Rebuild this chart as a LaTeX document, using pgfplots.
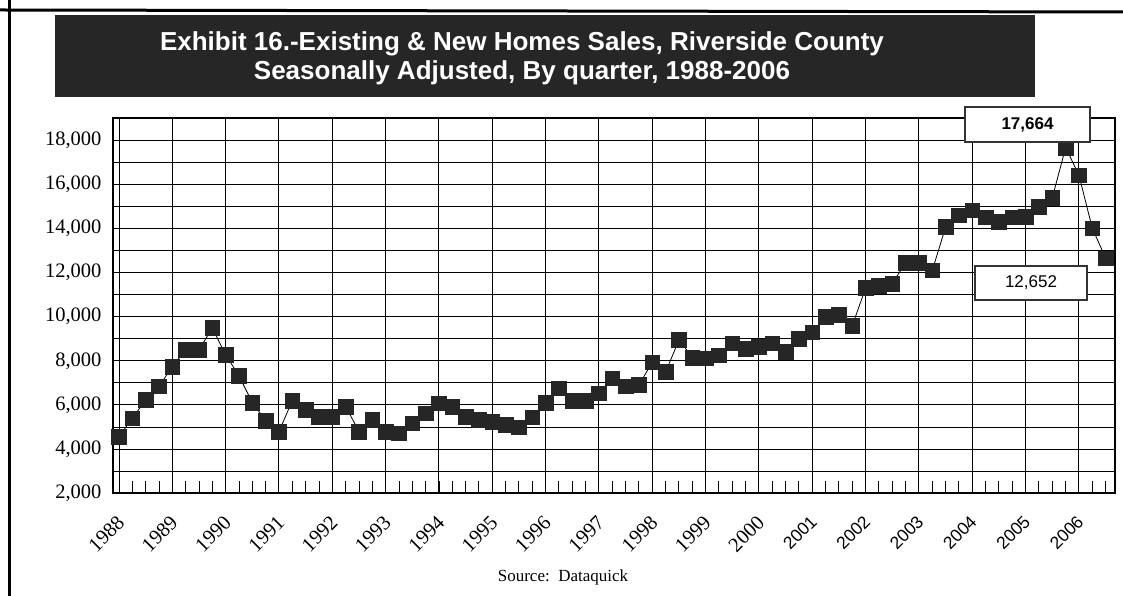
\documentclass[border=0pt]{standalone}
\usepackage{fontspec}
\setmainfont{Liberation Serif}
\newfontfamily\arial{Liberation Sans}
\usepackage{graphicx}
\usepackage{pgfplots}
\pgfplotsset{compat=1.18}
\usepackage{pgfplotstable}

\pgfplotstableread{
x y
1988.00 4570
1988.25 5400
1988.50 6230
1988.75 6840
1989.00 7740
1989.25 8500
1989.50 8500
1989.75 9490
1990.00 8270
1990.25 7320
1990.50 6110
1990.75 5290
1991.00 4800
1991.25 6200
1991.50 5780
1991.75 5480
1992.00 5480
1992.25 5930
1992.50 4800
1992.75 5330
1993.00 4800
1993.25 4720
1993.50 5180
1993.75 5630
1994.00 6080
1994.25 5930
1994.50 5480
1994.75 5330
1995.00 5250
1995.25 5100
1995.50 5000
1995.75 5450
1996.00 6110
1996.25 6760
1996.50 6190
1996.75 6190
1997.00 6540
1997.25 7220
1997.50 6840
1997.75 6910
1998.00 7940
1998.25 7500
1998.50 8950
1998.75 8150
1999.00 8120
1999.25 8250
1999.50 8800
1999.75 8550
2000.00 8640
2000.25 8800
2000.50 8400
2000.75 9000
2001.00 9300
2001.25 10000
2001.50 10100
2001.75 9600
2002.00 11300
2002.25 11400
2002.50 11500
2002.75 12450
2003.00 12450
2003.25 12100
2003.50 14070
2003.75 14600
2004.00 14820
2004.25 14500
2004.50 14300
2004.75 14500
2005.00 14530
2005.25 14970
2005.50 15390
2005.75 17664
2006.00 16400
2006.25 14000
2006.50 12652
}\salesdata

\newcommand{\sy}[1]{{\arial\fontsize{17.5bp}{20bp}\selectfont #1}}

\begin{document}
\begin{tikzpicture}[x=1bp,y=1bp]
\path[use as bounding box] (0,0) rectangle (1123,596);
% page frame
\draw[line width=3bp] (9.5,0) -- (9.5,596);
\draw[line width=3bp] (0,586) -- (1123,584);
% title
\fill[black!85] (55,499) rectangle (1035,581);
\node[text=white, font=\arial\bfseries\fontsize{26bp}{29bp}\selectfont, align=center] at (522,538)
  {Exhibit 16.-Existing \& New Homes Sales, Riverside County\\Seasonally Adjusted, By quarter, 1988-2006};

\begin{axis}[
  at={(113bp,102.7bp)}, anchor=south west,
  width=1002bp, height=375.3bp, scale only axis,
  xmin=1987.8875, xmax=2006.675,
  ymin=2000, ymax=19000,
  scaled y ticks=false,
  xtick={1988,1989,...,2006},
  xticklabels={1988,1989,1990,1991,1992,1993,1994,1995,1996,1997,1998,1999,2000,
    \sy{2001},\sy{2002},\sy{2003},\sy{2004},\sy{2005},\sy{2006}},
  minor xtick={1988,1988.25,...,2006.5},
  ytick={2000,4000,...,18000},
  minor ytick={3000,5000,...,17000},
  xmajorgrids, ymajorgrids, yminorgrids,
  grid style={black, line width=1bp},
  minor grid style={black, line width=1bp},
  axis line style={black, line width=1.5bp},
  tick align=inside,
  xtick pos=left,
  major tick length=0pt,
  minor tick length=12bp,
  minor tick style={black, line width=1bp},
  /pgf/number format/.cd, 1000 sep={,}, assume math mode=true,
  /pgfplots/.cd,
  yticklabel style={font=\fontsize{20.5bp}{24bp}\selectfont, xshift=-8bp},
  xticklabel style={font=\fontsize{20.5bp}{23bp}\selectfont, inner sep=0pt, xshift=-3bp, yshift=-21bp, rotate=45, anchor=north east},
]
\addplot[black, line width=0.8bp, mark=square*, mark size=7.3bp,
  mark options={fill=black!85, draw=black!85, line width=0.5bp}] table[x=x,y=y] {\salesdata};
\draw[line width=3bp] (rel axis cs:0,0) -- (rel axis cs:1,0);
\end{axis}

\node[font=\fontsize{17bp}{20bp}\selectfont] at (563,19) {Source:\ \ Dataquick};
\node[draw=black!80, line width=1.2bp, fill=white, minimum width=125bp, minimum height=35bp,
  font=\arial\bfseries\fontsize{17bp}{20bp}\selectfont] at (1027.5,471.5) {17,664};
\node[draw=black!80, line width=1.2bp, fill=white, minimum width=112bp, minimum height=34bp,
  font=\arial\fontsize{17bp}{20bp}\selectfont] at (1031,313) {12,652};
\end{tikzpicture}
\end{document}
